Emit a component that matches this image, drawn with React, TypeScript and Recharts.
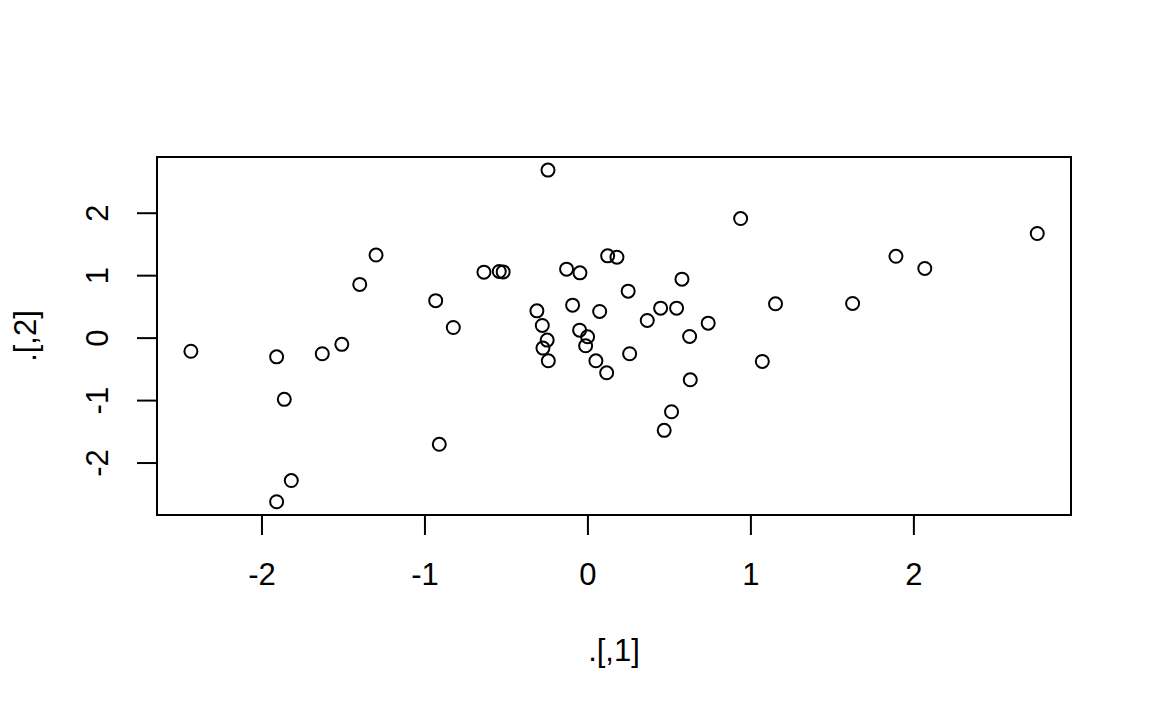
import { ScatterChart, Scatter, XAxis, YAxis, ReferenceArea } from "recharts";

// values (.[,1] and .[,2])
const xValues = [
  -2.436, -1.91, -1.863, -1.63, -1.51, -1.4, -1.3, -0.934, -0.826, -0.912,
  -1.82, -1.91, 0.937, 2.757, 1.89, 2.067, 1.151, 1.624, 1.07, -0.638,
  -0.544, -0.52, -0.131, -0.049, 0.121, 0.178, 0.577, 0.247, -0.313, -0.094,
  0.072, 0.364, 0.446, 0.544, 0.738, 0.624, -0.28, -0.25, -0.276, -0.243,
  -0.051, -0.002, -0.014, 0.049, 0.115, 0.256, 0.628, 0.513, 0.468, -0.245,
];
const yValues = [
  -0.21, -0.3, -0.98, -0.25, -0.1, 0.86, 1.33, 0.6, 0.17, -1.7,
  -2.28, -2.62, 1.915, 1.675, 1.31, 1.115, 0.55, 0.555, -0.373, 1.056,
  1.067, 1.06, 1.104, 1.045, 1.317, 1.296, 0.944, 0.752, 0.437, 0.528,
  0.427, 0.283, 0.48, 0.48, 0.24, 0.027, 0.203, -0.032, -0.16, -0.363,
  0.128, 0.021, -0.123, -0.363, -0.555, -0.25, -0.667, -1.179, -1.477, 2.69,
];
const xTicks = [-2, -1, 0, 1, 2];
const yTicks = [-2, -1, 0, 1, 2];
const xDomain = [-2.644, 2.964];
const yDomain = [-2.832, 2.9];

const points = xValues.map((x, i) => ({ x, y: yValues[i] }));

const FONT = "'Liberation Sans', Arial, Helvetica, sans-serif";
const FONT_SIZE = 31;

const OpenCircle = (props: any) => {
  const { cx, cy } = props;
  if (cx == null || cy == null) return null;
  return <circle cx={cx} cy={cy} r={6.5} fill="none" stroke="#000" strokeWidth={2} />;
};

// R draws y tick labels rotated (las = 0)
const RotatedTick = (props: any) => {
  const { x, y, payload } = props;
  return (
    <text
      x={x}
      y={y}
      transform={`rotate(-90, ${x}, ${y})`}
      textAnchor="middle"
      fill="#000"
      fontSize={FONT_SIZE}
      fontFamily={FONT}
    >
      {payload.value}
    </text>
  );
};

const XTitle = (props: any) => {
  const vb = props.viewBox || { x: 157, y: 515, width: 914, height: 196 };
  const cx = vb.x + vb.width / 2;
  const cy = vb.y + vb.height - 50;
  return (
    <text x={cx} y={cy} textAnchor="middle" fill="#000" fontSize={FONT_SIZE} fontFamily={FONT}>
      .[,1]
    </text>
  );
};

const YTitle = (props: any) => {
  const vb = props.viewBox || { x: 0, y: 157, width: 157, height: 358 };
  const cx = vb.x + 36;
  const cy = vb.y + vb.height / 2;
  return (
    <text
      x={cx}
      y={cy}
      transform={`rotate(-90, ${cx}, ${cy})`}
      textAnchor="middle"
      fill="#000"
      fontSize={FONT_SIZE}
      fontFamily={FONT}
    >
      .[,2]
    </text>
  );
};

export default function App() {
  return (
    <div style={{ position: "absolute", left: 0, top: 0, background: "#fff" }}>
      <ScatterChart
        width={1152}
        height={711}
        margin={{ top: 157, right: 81, bottom: 0, left: 0 }}
      >
        <XAxis
          type="number"
          dataKey="x"
          domain={xDomain}
          ticks={xTicks}
          allowDataOverflow
          height={196}
          axisLine={false}
          tickSize={20}
          tickMargin={28}
          tickLine={{ stroke: "#000", strokeWidth: 2 }}
          tick={{ fill: "#000", fontSize: FONT_SIZE, fontFamily: FONT }}
          label={XTitle}
        />
        <YAxis
          type="number"
          dataKey="y"
          domain={yDomain}
          ticks={yTicks}
          allowDataOverflow
          width={157}
          axisLine={false}
          tickSize={20}
          tickMargin={29}
          tickLine={{ stroke: "#000", strokeWidth: 2 }}
          tick={<RotatedTick />}
          label={YTitle}
        />
        <ReferenceArea
          x1={xDomain[0]}
          x2={xDomain[1]}
          y1={yDomain[0]}
          y2={yDomain[1]}
          fill="none"
          fillOpacity={0}
          stroke="#000"
          strokeWidth={2}
          ifOverflow="visible"
        />
        <Scatter data={points} shape={<OpenCircle />} isAnimationActive={false} />
      </ScatterChart>
    </div>
  );
}
